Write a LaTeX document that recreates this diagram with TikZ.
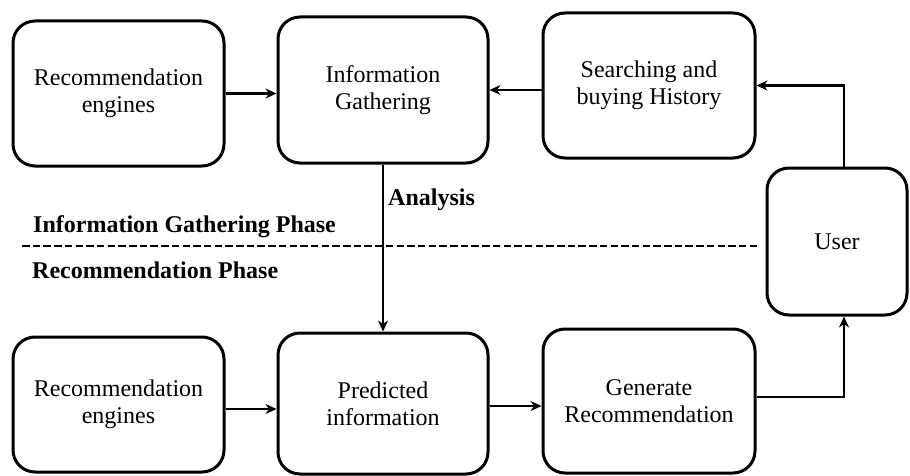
\documentclass[tikz,border=0pt]{standalone}
\usepackage{fontspec}
\setmainfont{Liberation Serif}
\usetikzlibrary{arrows.meta}
\begin{document}
\begin{tikzpicture}[x=1pt,y=-1pt,
  box/.style={draw=black, line width=3pt, rounded corners=22pt, align=center,
    inner sep=0pt, font=\fontsize{24}{26.7}\selectfont},
  arr/.style={line width=2.6pt, -{Stealth[length=11pt,width=10pt]}},
  lbl/.style={inner sep=0pt, anchor=base west, font=\fontsize{24}{26.7}\selectfont\bfseries},
  phase/.style={line width=2.6pt, dash pattern=on 7.5pt off 3.2pt}]
\useasboundingbox (0,0) rectangle (910,476);
\node[box, minimum width=211pt, minimum height=145pt] (rec1) at (118.5,93.5) {Recommendation\\engines};
\node[box, minimum width=210pt, minimum height=146pt] (ig) at (383,90) {Information\\Gathering};
\node[box, minimum width=212pt, minimum height=145pt] (sh) at (649,85.5) {Searching and\\buying History};
\node[box, minimum width=140pt, minimum height=147pt] (user) at (837,241.5) {User};
\node[box, minimum width=211pt, minimum height=135pt] (rec2) at (118.5,404.5) {Recommendation\\engines};
\node[box, minimum width=210pt, minimum height=141pt] (pred) at (383,403.5) {Predicted\\information};
\node[box, minimum width=212pt, minimum height=144pt] (gen) at (649,401) {Generate\\Recommendation};

\coordinate (d1) at (22,246);
\coordinate (d2) at (758,246);
\draw[phase] (d1) -- (d2);

\node[lbl] (an) at (388,205) {Analysis};
\node[lbl] (igp) at (33,232) {Information Gathering Phase};
\node[lbl] (rp) at (32,278) {Recommendation Phase};

\draw[arr] (rec1.east) -- (rec1.east -| ig.west);
\draw[arr] (sh.west |- ig.east) -- (ig.east);
\draw[arr] ([xshift=7pt]user.north) |- (sh.east);
\draw[arr] (ig.south) -- (pred.north);
\draw[arr] ([yshift=-4.5pt]rec2.east) -- ([yshift=-4.5pt]rec2.east -| pred.west);
\draw[arr] ([yshift=-2.5pt]pred.east) -- ([yshift=-2.5pt]pred.east -| gen.west);
\draw[arr] ([yshift=4pt]gen.east) -| ([xshift=7pt]user.south);
\end{tikzpicture}
\end{document}
